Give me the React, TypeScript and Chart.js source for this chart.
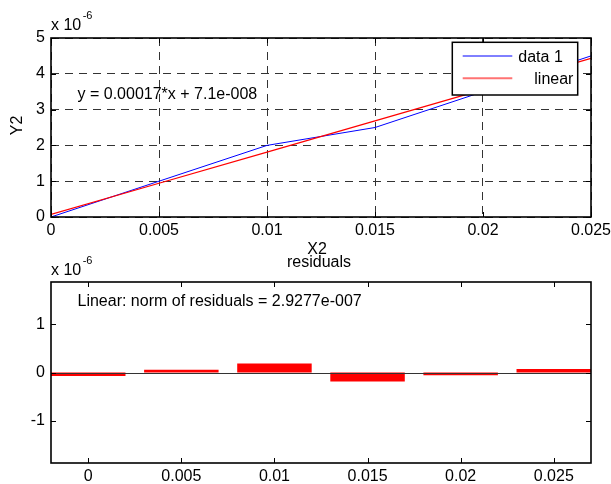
import React, { useEffect, useRef } from 'react';
import { Chart, registerables } from 'chart.js';

Chart.register(...registerables);

const FONT = '"Liberation Sans", Arial, Helvetica, sans-serif';

// ---- data (y values in units of 1e-6) ----
const xValues = [0, 0.005, 0.01, 0.015, 0.02, 0.025];
const xTickLabels = ['0', '0.005', '0.01', '0.015', '0.02', '0.025'];
const dataY = [0, 1, 2, 2.5, 3.5, 4.5];
const fitY = [0.071, 0.943, 1.814, 2.686, 3.557, 4.429];
const residuals = [-0.071, 0.057, 0.186, -0.186, -0.057, 0.071];
const topYTicks = [0, 1, 2, 3, 4, 5];
const topYTickLabels = ['0', '1', '2', '3', '4', '5'];
const botYTicks = [-1, 0, 1];
const botYTickLabels = ['-1', '0', '1'];
const exponentLabel = '-6';
const equationText = 'y = 0.00017*x + 7.1e-008';
const normText = 'Linear: norm of residuals = 2.9277e-007';
const legendLabels = ['data 1', 'linear'];

function drawFrameAndTicks(ctx: CanvasRenderingContext2D, chart: any, xt: number[], yt: number[]) {
  const a = chart.chartArea;
  const xs = chart.scales.x;
  const ys = chart.scales.y;
  ctx.save();
  ctx.setLineDash([]);
  ctx.strokeStyle = '#000';
  ctx.lineWidth = 1;
  ctx.beginPath();
  const L = 5;
  for (const v of xt) {
    const px = Math.round(xs.getPixelForValue(v)) + 0.5;
    ctx.moveTo(px, a.bottom);
    ctx.lineTo(px, a.bottom - L);
    ctx.moveTo(px, a.top);
    ctx.lineTo(px, a.top + L);
  }
  for (const v of yt) {
    const py = Math.round(ys.getPixelForValue(v)) + 0.5;
    ctx.moveTo(a.left, py);
    ctx.lineTo(a.left + L, py);
    ctx.moveTo(a.right, py);
    ctx.lineTo(a.right - L, py);
  }
  ctx.stroke();
  ctx.lineWidth = 1.6;
  ctx.strokeRect(a.left, a.top, a.right - a.left, a.bottom - a.top);
  ctx.restore();
}

function drawExponent(ctx: CanvasRenderingContext2D, x: number, baseline: number) {
  ctx.font = `16px ${FONT}`;
  ctx.textAlign = 'left';
  ctx.textBaseline = 'alphabetic';
  ctx.fillStyle = '#000';
  ctx.fillText('x 10', x, baseline);
  const w = ctx.measureText('x 10').width;
  ctx.font = `11px ${FONT}`;
  ctx.fillText(exponentLabel, x + w + 1.4, baseline - 10.7);
}

const topDecor = {
  id: 'topDecor',
  afterDraw(chart: any) {
    const ctx: CanvasRenderingContext2D = chart.ctx;
    const a = chart.chartArea;
    drawFrameAndTicks(ctx, chart, xValues, topYTicks);
    ctx.save();
    drawExponent(ctx, a.left, a.top - 8);
    ctx.font = `16px ${FONT}`;
    ctx.textAlign = 'left';
    ctx.textBaseline = 'alphabetic';
    ctx.fillText(equationText, a.left + 26.5, a.top + 60.5);
    // X2 label
    ctx.textAlign = 'center';
    ctx.fillText('X2', (a.left + a.right) / 2 - 4, a.bottom + 37);
    // Y2 label
    ctx.save();
    ctx.translate(18, (a.top + a.bottom) / 2 - 2);
    ctx.rotate(-Math.PI / 2);
    ctx.textAlign = 'center';
    ctx.textBaseline = 'middle';
    ctx.fillText('Y2', 0, 0);
    ctx.restore();
    // legend
    const bx = a.right - 138.7;
    const by = a.top + 4.3;
    const bw = 125.4;
    const bh = 52.7;
    ctx.fillStyle = '#fff';
    ctx.fillRect(bx, by, bw, bh);
    ctx.strokeStyle = '#000';
    ctx.lineWidth = 1.5;
    ctx.strokeRect(bx, by, bw, bh);
    ctx.lineWidth = 1;
    ctx.strokeStyle = '#0000ff';
    ctx.beginPath();
    ctx.moveTo(bx + 10.4, a.top + 18);
    ctx.lineTo(bx + 60, a.top + 18);
    ctx.stroke();
    ctx.strokeStyle = 'rgba(255,0,0,0.55)';
    ctx.lineWidth = 2;
    ctx.beginPath();
    ctx.moveTo(bx + 10.4, a.top + 40.3);
    ctx.lineTo(bx + 60, a.top + 40.3);
    ctx.stroke();
    ctx.fillStyle = '#000';
    ctx.textAlign = 'left';
    ctx.textBaseline = 'alphabetic';
    ctx.font = `16px ${FONT}`;
    ctx.fillText(legendLabels[0], bx + 66, a.top + 23.7);
    ctx.fillText(legendLabels[1], bx + 82, a.top + 46.3);
    ctx.restore();
  },
};

const botDecor = {
  id: 'botDecor',
  afterDraw(chart: any) {
    const ctx: CanvasRenderingContext2D = chart.ctx;
    const a = chart.chartArea;
    const y0 = Math.round(chart.scales.y.getPixelForValue(0)) + 0.5;
    ctx.save();
    ctx.strokeStyle = '#333';
    ctx.lineWidth = 1;
    ctx.beginPath();
    ctx.moveTo(a.left, y0);
    ctx.lineTo(a.right, y0);
    ctx.stroke();
    ctx.restore();
    drawFrameAndTicks(ctx, chart, xValues, botYTicks);
    ctx.save();
    drawExponent(ctx, a.left, a.top - 7.3);
    ctx.font = `16px ${FONT}`;
    ctx.fillStyle = '#000';
    ctx.textAlign = 'center';
    ctx.textBaseline = 'alphabetic';
    ctx.fillText('residuals', (a.left + a.right) / 2 - 2, a.top - 15);
    ctx.textAlign = 'left';
    ctx.fillText(normText, a.left + 26.5, a.top + 24.3);
    ctx.restore();
  },
};

const tickFont = { family: FONT, size: 16 };

export default function App() {
  const topRef = useRef<HTMLCanvasElement>(null);
  const botRef = useRef<HTMLCanvasElement>(null);

  useEffect(() => {
    const topChart = new Chart(topRef.current as HTMLCanvasElement, {
      type: 'line',
      data: {
        datasets: [
          {
            label: legendLabels[1],
            data: xValues.map((x, i) => ({ x, y: fitY[i] })),
            borderColor: '#ff0000',
            borderWidth: 1.2,
            pointRadius: 0,
            tension: 0,
            fill: false,
            order: 0,
          },
          {
            label: legendLabels[0],
            data: xValues.map((x, i) => ({ x, y: dataY[i] })),
            borderColor: '#0000ff',
            borderWidth: 1,
            pointRadius: 0,
            tension: 0,
            fill: false,
            order: 1,
          },
        ],
      },
      options: {
        responsive: false,
        animation: false,
        devicePixelRatio: 1,
        layout: { padding: { left: 0, right: 20, top: 38, bottom: 237 } },
        plugins: { legend: { display: false }, tooltip: { enabled: false }, title: { display: false } },
        scales: {
          x: {
            type: 'linear',
            min: 0,
            max: 0.025,
            afterBuildTicks: (s: any) => {
              s.ticks = xValues.map((v) => ({ value: v }));
            },
            afterFit: (s: any) => {
              s.height = 30;
              s.paddingLeft = 0;
              s.paddingRight = 0;
            },
            ticks: {
              padding: 4,
              color: '#000',
              font: tickFont,
              maxRotation: 0,
              autoSkip: false,
              callback: (_v: any, i: number) => xTickLabels[i],
            },
            grid: { color: '#333', lineWidth: 1, drawTicks: false },
            border: { display: false, dash: [8, 6] },
          },
          y: {
            type: 'linear',
            min: 0,
            max: 5,
            afterBuildTicks: (s: any) => {
              s.ticks = topYTicks.map((v) => ({ value: v }));
            },
            afterFit: (s: any) => {
              s.width = 51;
              s.paddingTop = 0;
              s.paddingBottom = 0;
            },
            ticks: {
              padding: 6,
              color: '#000',
              font: tickFont,
              autoSkip: false,
              callback: (_v: any, i: number) => topYTickLabels[i],
            },
            grid: { color: '#333', lineWidth: 1, drawTicks: false },
            border: { display: false, dash: [8, 6] },
          },
        },
      },
      plugins: [topDecor],
    } as any);

    const botChart = new Chart(botRef.current as HTMLCanvasElement, {
      type: 'bar',
      data: {
        datasets: [
          {
            label: 'residuals',
            data: xValues.map((x, i) => ({ x, y: residuals[i] })),
            backgroundColor: '#ff0000',
            borderWidth: 0,
            barPercentage: 0.8,
            categoryPercentage: 1,
          },
        ],
      },
      options: {
        responsive: false,
        animation: false,
        devicePixelRatio: 1,
        layout: { padding: { left: 0, right: 20, top: 282, bottom: 0 } },
        plugins: { legend: { display: false }, tooltip: { enabled: false }, title: { display: false } },
        scales: {
          x: {
            type: 'linear',
            min: -0.002,
            max: 0.027,
            offset: false,
            afterBuildTicks: (s: any) => {
              s.ticks = xValues.map((v) => ({ value: v }));
            },
            afterFit: (s: any) => {
              s.height = 21;
              s.paddingLeft = 0;
              s.paddingRight = 0;
            },
            ticks: {
              padding: 4,
              color: '#000',
              font: tickFont,
              maxRotation: 0,
              autoSkip: false,
              callback: (_v: any, i: number) => xTickLabels[i],
            },
            grid: { display: false, drawTicks: false },
            border: { display: false },
          },
          y: {
            type: 'linear',
            min: -1.87,
            max: 1.87,
            afterBuildTicks: (s: any) => {
              s.ticks = botYTicks.map((v) => ({ value: v }));
            },
            afterFit: (s: any) => {
              s.width = 51;
              s.paddingTop = 0;
              s.paddingBottom = 0;
            },
            ticks: {
              padding: 6,
              color: '#000',
              font: tickFont,
              autoSkip: false,
              callback: (_v: any, i: number) => botYTickLabels[i],
            },
            grid: { display: false, drawTicks: false },
            border: { display: false },
          },
        },
      },
      plugins: [botDecor],
    } as any);

    return () => {
      topChart.destroy();
      botChart.destroy();
    };
  }, []);

  return (
    <div style={{ position: 'absolute', left: 0, top: 0, width: 611, height: 484, background: '#fff' }}>
      <canvas ref={topRef} width={611} height={484} style={{ position: 'absolute', left: 0, top: 0 }} />
      <canvas ref={botRef} width={611} height={484} style={{ position: 'absolute', left: 0, top: 0 }} />
    </div>
  );
}
